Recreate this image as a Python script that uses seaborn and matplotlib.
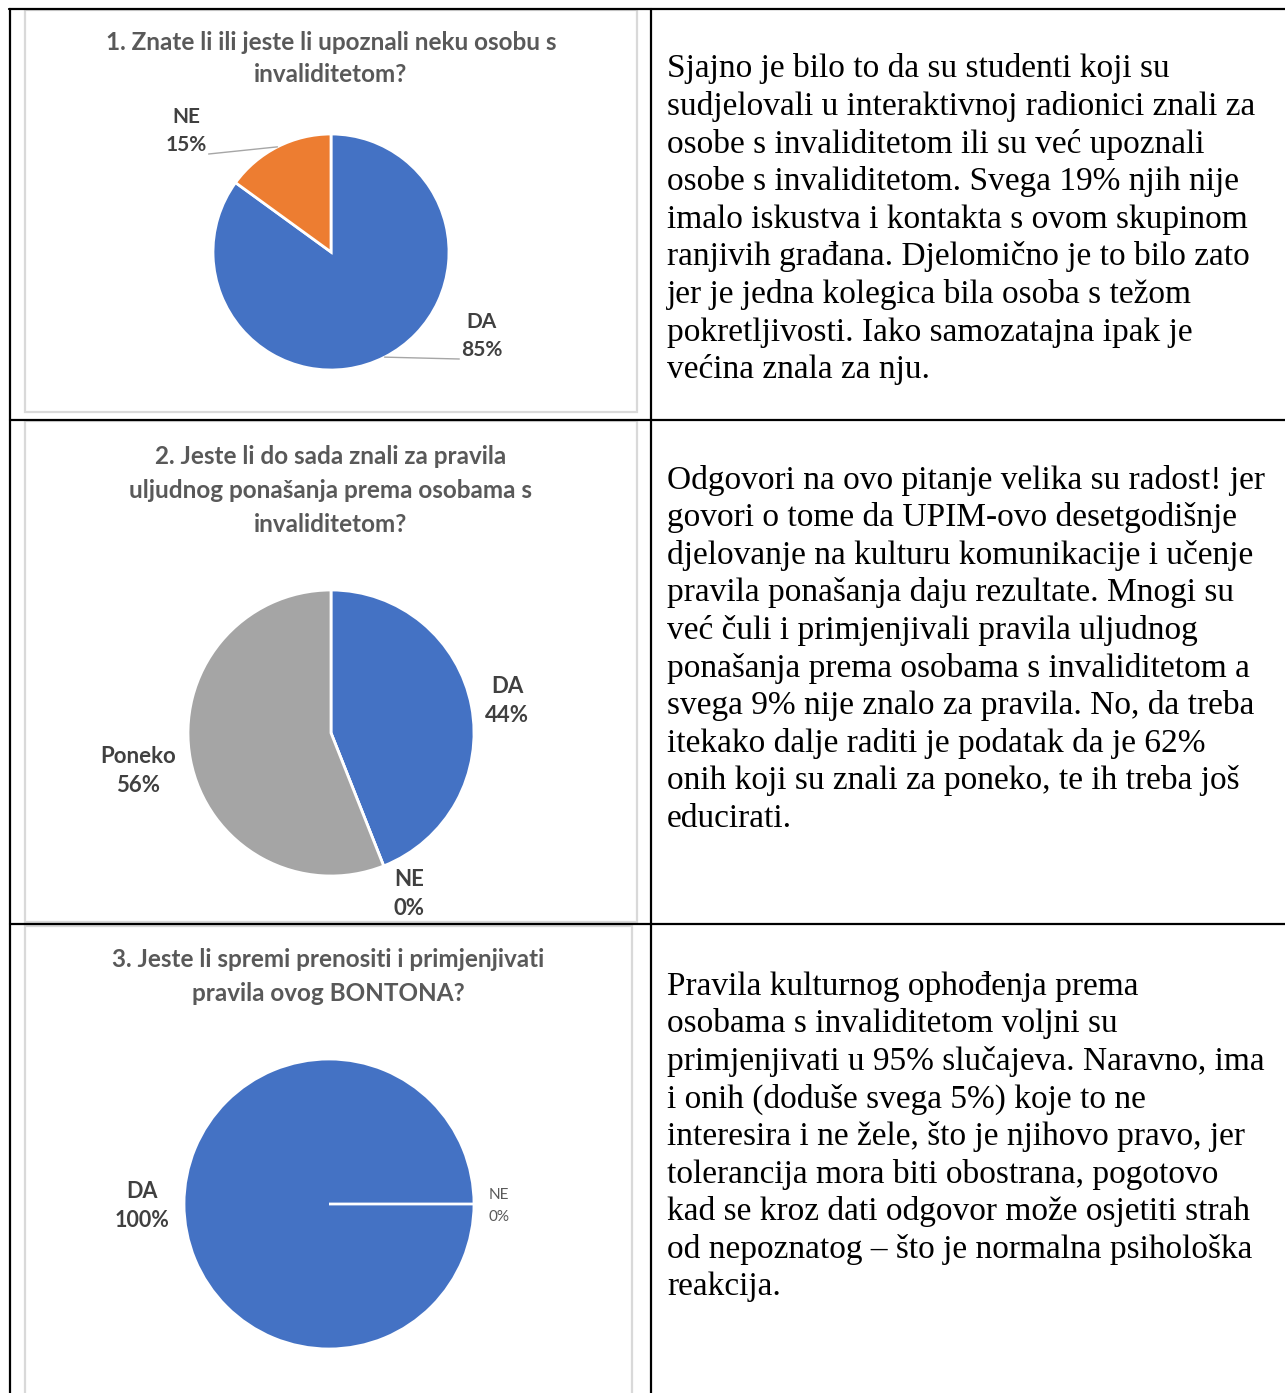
import numpy as np
import pandas as pd
import matplotlib.pyplot as plt
import seaborn as sns
from matplotlib.patches import Rectangle
from matplotlib.lines import Line2D

# -------------------------------------------------
# Data
# -------------------------------------------------

q1_labels = ["DA", "NE"]
q1_values = [85, 15]

q2_labels = ["DA", "NE", "Poneko"]
q2_values = [44, 0, 56]

q3_labels = ["DA", "NE"]
q3_values = [100, 0]

q1_title = ["1. Znate li ili jeste li upoznali neku osobu s", "invaliditetom?"]
q2_title = ["2. Jeste li do sada znali za pravila",
            "uljudnog ponašanja prema osobama s",
            "invaliditetom?"]
q3_title = ["3. Jeste li spremi prenositi i primjenjivati",
            "pravila ovog BONTONA?"]

text1 = ["Sjajno je bilo to da su studenti koji su",
         "sudjelovali u interaktivnoj radionici znali za",
         "osobe s invaliditetom ili su već upoznali",
         "osobe s invaliditetom. Svega 19% njih nije",
         "imalo iskustva i kontakta s ovom skupinom",
         "ranjivih građana. Djelomično je to bilo zato",
         "jer je jedna kolegica bila osoba s težom",
         "pokretljivosti. Iako samozatajna ipak je",
         "većina znala za nju."]

text2 = ["Odgovori na ovo pitanje velika su radost! jer",
         "govori o tome da UPIM-ovo desetgodišnje",
         "djelovanje na kulturu komunikacije i učenje",
         "pravila ponašanja daju rezultate. Mnogi su",
         "već čuli i primjenjivali pravila uljudnog",
         "ponašanja prema osobama s invaliditetom a",
         "svega 9% nije znalo za pravila. No, da treba",
         "itekako dalje raditi je podatak da je 62%",
         "onih koji su znali za poneko, te ih treba još",
         "educirati."]

text3 = ["Pravila kulturnog ophođenja prema",
         "osobama s invaliditetom voljni su",
         "primjenjivati u 95% slučajeva. Naravno, ima",
         "i onih (doduše svega 5%) koje to ne",
         "interesira i ne žele, što je njihovo pravo, jer",
         "tolerancija mora biti obostrana, pogotovo",
         "kad se kroz dati odgovor može osjetiti strah",
         "od nepoznatog – što je normalna psihološka",
         "reakcija."]

BLUE = "#4472C4"
ORANGE = "#ED7D31"
GREY = "#A5A5A5"

# -------------------------------------------------
# Figure setup
# -------------------------------------------------

sns.set_theme(style="white")
plt.rcParams['font.family'] = ['Lato', 'DejaVu Sans']

W, H = 1285, 1393
fig = plt.figure(figsize=(W / 100, H / 100), dpi=100)
fig.patch.set_facecolor("white")


def fx(x):
    return x / W


def fy(y):
    return 1 - y / H


# table grid
for (x0, y0, x1, y1) in [(9, 9, W, 9), (10, 9, 10, H), (651, 9, 651, H),
                         (10, 420, W, 420), (10, 924, W, 924)]:
    fig.add_artist(Line2D([fx(x0), fx(x1)], [fy(y0), fy(y1)],
                          color="black", linewidth=1.6))

# chart frames
for (x0, y0, x1, y1) in [(25, 10, 637, 412), (25, 421, 637, 922),
                         (25, 926, 632, H + 5)]:
    fig.add_artist(Rectangle((fx(x0), fy(y1)), fx(x1) - fx(x0), fy(y0) - fy(y1),
                             facecolor="none", edgecolor="#D9D9D9",
                             linewidth=1.6))


# -------------------------------------------------
# Pie helper
# -------------------------------------------------

def draw_pie(cx, cy, r, values, colors, start):
    half = 250
    ax = fig.add_axes([fx(cx - half), fy(cy + half), 2 * half / W, 2 * half / H])
    wedges, _ = ax.pie(values, colors=colors, startangle=start,
                       counterclock=False,
                       wedgeprops=dict(edgecolor="white", linewidth=2))
    lim = half / r
    ax.set_xlim(-lim, lim)
    ax.set_ylim(-lim, lim)
    ax.set_aspect("equal")
    ax.axis("off")
    return ax, wedges


def label(ax, cx, cy, r, x, y_name, y_pct, name, pct, size, weight="bold",
          color="#404040"):
    t1 = ax.text((x - cx) / r, (cy - y_name) / r, name, ha="center",
                 va="baseline", fontsize=size, fontweight=weight, color=color)
    t2 = ax.text((x - cx) / r, (cy - y_pct) / r, pct, ha="center",
                 va="baseline", fontsize=size, fontweight=weight, color=color)
    return t1, t2


def title(lines, x, baselines, size=17.5):
    for line, b in zip(lines, baselines):
        fig.text(fx(x), fy(b), line, ha="center", va="baseline",
                 fontsize=size, fontweight="bold", color="#595959")


# -------------------------------------------------
# Chart 1
# -------------------------------------------------

title(q1_title, 331, [50, 81.5])
c1 = (331, 252, 118)
ax1, w1 = draw_pie(*c1, q1_values, [BLUE, ORANGE], 90)
label_pos1 = {"DA": (482, 328, 356), "NE": (186, 123, 151)}
fig.canvas.draw()
renderer = fig.canvas.get_renderer()
for lab, val, wedge in zip(q1_labels, q1_values, w1):
    x, yn, yp = label_pos1[lab]
    _, tp = label(ax1, *c1, x, yn, yp, lab, f"{val}%", 15)
    mid = np.deg2rad((wedge.theta1 + wedge.theta2) / 2)
    bb = tp.get_window_extent(renderer)
    inv = ax1.transData.inverted()
    if np.cos(mid) < 0:
        end = inv.transform((bb.x1 + 2, bb.y0 + 1))
    else:
        end = inv.transform((bb.x0 - 2, bb.y0 + 1))
    ax1.plot([np.cos(mid), end[0]], [np.sin(mid), end[1]],
             color="#A6A6A6", linewidth=1)

# -------------------------------------------------
# Chart 2
# -------------------------------------------------

title(q2_title, 331, [464.5, 498, 531.5])
c2 = (331, 733, 143)
ax2, w2 = draw_pie(*c2, q2_values, [BLUE, "#5B9BD5", GREY], 90)
label_pos2 = {"DA": (507, 693, 722), "NE": (409, 886, 915),
              "Poneko": (138, 763, 792)}
for lab, val in zip(q2_labels, q2_values):
    x, yn, yp = label_pos2[lab]
    label(ax2, *c2, x, yn, yp, lab, f"{val}%", 16)

# -------------------------------------------------
# Chart 3
# -------------------------------------------------

title(q3_title, 328, [967, 1001])
c3 = (329, 1204, 145)
ax3, w3 = draw_pie(*c3, q3_values, [BLUE, ORANGE], 0)
label(ax3, *c3, 142, 1198, 1227, q3_labels[0], f"{q3_values[0]}%", 15.5)
label(ax3, *c3, 499, 1199, 1221, q3_labels[1], f"{q3_values[1]}%", 11,
      weight="normal", color="#595959")

# -------------------------------------------------
# Right column text
# -------------------------------------------------

for lines, first in [(text1, 77.5), (text2, 488.5), (text3, 994.5)]:
    for i, line in enumerate(lines):
        fig.text(fx(667), fy(first + 37.6 * i), line, ha="left",
                 va="baseline", fontsize=24, color="black",
                 family=["Liberation Serif", "DejaVu Serif"])

fig.savefig("out.png", dpi=100, facecolor="white")
